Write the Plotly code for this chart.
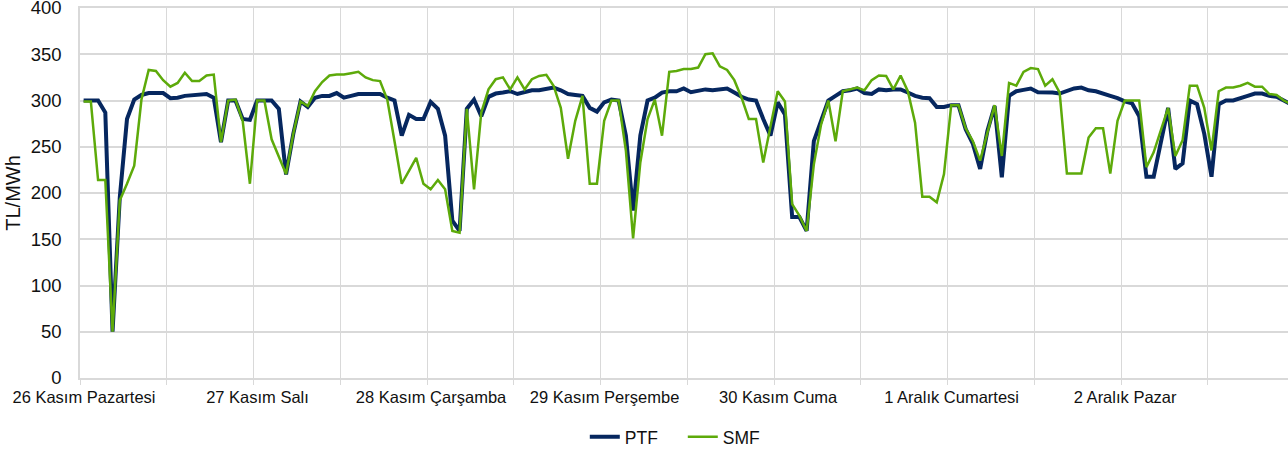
import numpy as np
import plotly.graph_objects as go

day_labels = ["26 Kasım Pazartesi", "27 Kasım Salı", "28 Kasım Çarşamba", "29 Kasım Perşembe",
              "30 Kasım Cuma", "1 Aralık Cumartesi", "2 Aralık Pazar"]

ptf = [300, 300, 300, 287, 50, 195, 280, 301, 306, 308, 308, 308, 302.5, 303, 305, 306, 307, 307, 303, 255, 300, 300, 280, 279,
       300, 300, 300, 291, 220, 264, 299, 293, 303, 305, 305, 308, 303, 305, 307, 307, 307, 307, 303, 300, 262, 284.5, 280, 280,
       298.5, 291, 262, 170, 159, 291, 301, 283, 304, 307.5, 308.6, 310, 307, 308.6, 311, 311, 312, 314, 311, 307, 306, 305, 292, 288,
       298, 301, 300, 262, 181, 262, 300, 303, 308.6, 310, 310, 313, 309, 310, 312, 311, 312, 313, 308.6, 304, 301, 300, 280, 262,
       298, 285, 174, 174, 159, 256, 278, 300, 305, 310, 311, 313, 308, 307, 312, 311, 312, 312, 308.6, 305, 303, 302.5, 293, 293,
       295, 295, 269, 253, 226, 267, 294, 217, 305, 310, 311.5, 313, 309, 309, 308.6, 307.5, 310, 313, 314, 311, 310, 308, 305, 302.5,
       299, 297, 283, 217.6, 217.6, 255, 292, 226, 232, 300, 296, 264, 217.6, 296, 300, 300, 302, 305, 307.5, 307.5, 305, 304, 300, 296]

smf = [299, 299, 214, 214, 50, 192, 210, 229.5, 301, 333, 332, 322, 315, 319, 330, 321, 321, 327, 328, 255, 300, 301, 278, 210,
       300, 300, 258, 240, 220.5, 264, 299, 294, 310, 320, 327, 328, 328, 329.5, 331, 325, 322, 321, 301, 256, 210, 224, 238, 210,
       204, 214, 204, 159, 157, 291, 204, 287, 312, 323, 325, 312, 325, 312, 323, 326.6, 327.7, 316, 292, 237, 278, 305, 210, 210,
       278, 300, 300, 246, 151, 233, 280, 301, 262, 331, 332, 334, 334, 335.6, 350, 351, 337, 333, 322, 303, 280, 280, 233, 272,
       310, 299, 188, 175.5, 159, 231, 274, 300, 256, 310, 312, 314, 311, 322, 327, 326.6, 312, 327, 310, 276, 196, 196, 190, 220.5,
       295, 295, 270, 256, 235, 265, 295, 240, 319, 316, 331, 335, 334, 316, 323, 308.6, 221, 221, 221, 260, 270, 270, 221, 278,
       300, 300, 300, 228, 244, 268, 292, 240, 257, 316, 316, 292, 246, 310, 314, 314, 316, 319, 315, 315, 307, 306, 300, 296]

hours = np.arange(len(ptf))
grid_pos = np.arange(-0.5, len(ptf), 12)
tick_text = [day_labels[k // 2] if (k % 2 == 0 and k // 2 < len(day_labels)) else "" for k in range(len(grid_pos))]

FONT = "Liberation Sans, Arial, sans-serif"
GRID = "#D9D9D9"

fig = go.Figure()
fig.add_trace(go.Scatter(x=hours, y=ptf, mode="lines", name="PTF",
                         line=dict(color="#06275F", width=4)))
fig.add_trace(go.Scatter(x=hours, y=smf, mode="lines", name="SMF",
                         line=dict(color="#5DAA0A", width=2.5)))

fig.update_layout(
    width=1288, height=452,
    margin=dict(l=80, r=0, t=8, b=74, autoexpand=False),
    paper_bgcolor="white", plot_bgcolor="white",
    font=dict(family=FONT, size=17, color="#111111"),
    showlegend=True,
    legend=dict(orientation="h", x=0.499, xanchor="center", y=-0.159, yanchor="middle",
                entrywidth=53, entrywidthmode="pixels",
                font=dict(size=17.5), bgcolor="rgba(0,0,0,0)"),
    xaxis=dict(range=[-0.5, 166.58], tickmode="array", tickvals=grid_pos, ticktext=tick_text,
               ticklabelshift=4, ticklabelstandoff=-2, showgrid=True, gridcolor=GRID, gridwidth=1,
               ticks="outside", ticklen=5, tickcolor=GRID, showline=True, mirror=True, linecolor=GRID,
               linewidth=1.5, zeroline=False, tickfont=dict(size=16.5), automargin=False),
    yaxis=dict(range=[0, 400], tick0=0, dtick=50, showgrid=True, gridcolor=GRID, gridwidth=1.5,
               zeroline=False, showline=True, linecolor=GRID, linewidth=1.5,
               ticks="", ticklabelstandoff=13, tickfont=dict(size=18.5), automargin=False,
               ticklabeloverflow="allow",
               title=dict(text="TL/MWh", standoff=5, font=dict(size=20))),
)

fig.write_html("out.html", config={"displayModeBar": False},
               post_script="document.body.style.margin='0';document.body.style.padding='0';")
